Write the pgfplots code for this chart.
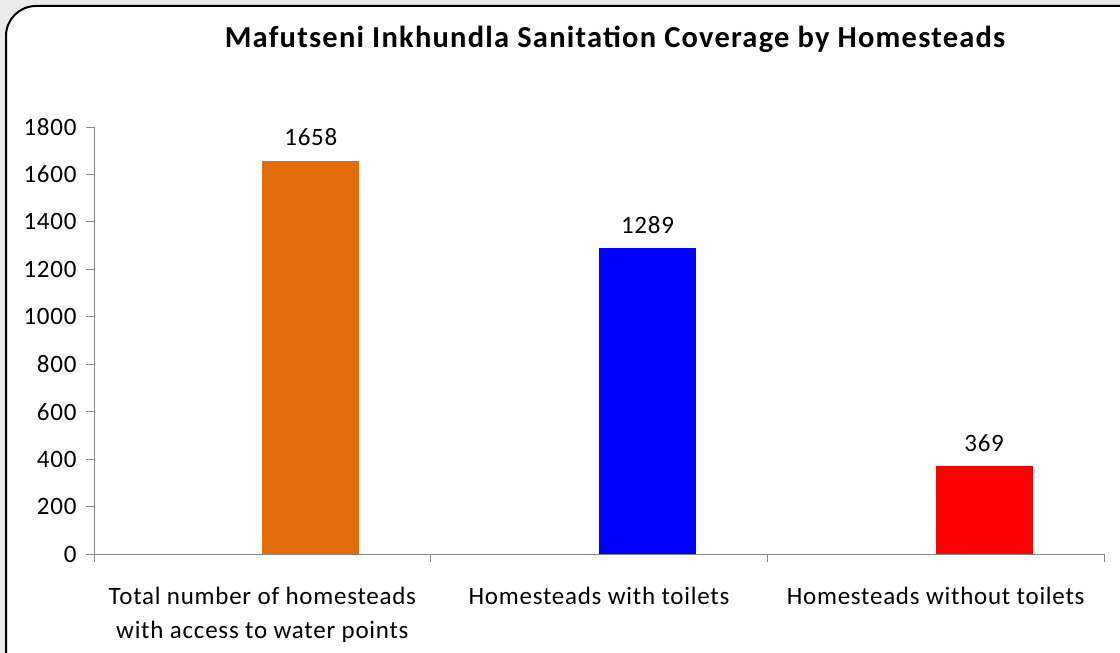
\documentclass[border=0pt]{standalone}
\usepackage{pgfplots}
\pgfplotsset{compat=1.18}
\usepackage{fontspec}
\setmainfont{Carlito}
\newfontfamily\xl[LetterSpace=3]{Carlito}
\newfontfamily\xt[LetterSpace=4]{Carlito}
\definecolor{bgg}{HTML}{EBEBEB}
\definecolor{axg}{HTML}{888888}
\definecolor{c1}{HTML}{E46C0A}
\definecolor{c2}{HTML}{0000FF}
\definecolor{c3}{HTML}{FF0000}
\begin{document}
\begin{tikzpicture}
\clip (0pt,0pt) rectangle (1120pt,653pt);
\fill[bgg] (0pt,0pt) rectangle (1120pt,653pt);
\draw[fill=white, line width=2pt, rounded corners=30pt] (6pt,-30pt) rectangle (1150pt,647pt);
\node[font=\xt\bfseries\fontsize{30.5}{35}\selectfont] at (615pt,614pt) {Mafutseni Inkhundla Sanitation Coverage by Homesteads};
\begin{axis}[
  at={(94pt,99pt)}, anchor=south west,
  scale only axis, width=1010pt, height=427pt,
  xmin=-0.5, xmax=2.5, ymin=0, ymax=1800,
  ytick={0,200,...,1800},
  axis x line*=bottom, axis y line*=left,
  axis line style={axg, line width=0.8pt},
  tick align=outside,
  major tick length=8pt, minor tick length=8pt,
  every tick/.style={axg, line width=0.8pt},
  xtick={0,1,2},
  major x tick style={draw=none},
  minor xtick={-0.5,0.5,1.5,2.5},
  xticklabels={{Total number of homesteads\\with access to water points},{Homesteads with toilets},{Homesteads without toilets}},
  xticklabel style={align=center, font=\xl\fontsize{25}{34}\selectfont, yshift=-22pt, anchor=north},
  yticklabel style={font=\xl\fontsize{25}{30}\selectfont, xshift=-6pt},
  /pgf/number format/assume math mode=true,
  /pgf/number format/1000 sep={},
  nodes near coords,
  every node near coord/.append style={font=\xl\fontsize{25}{30}\selectfont, xshift=48.5pt, yshift=11pt, text=black},
  clip=false,
]
\addplot[ybar, bar width=97pt, bar shift=48.5pt, fill=c1, draw=none] coordinates {(0,1658)};
\addplot[ybar, bar width=97pt, bar shift=48.5pt, fill=c2, draw=none] coordinates {(1,1289)};
\addplot[ybar, bar width=97pt, bar shift=48.5pt, fill=c3, draw=none] coordinates {(2,369)};
\end{axis}
\end{tikzpicture}
\end{document}
